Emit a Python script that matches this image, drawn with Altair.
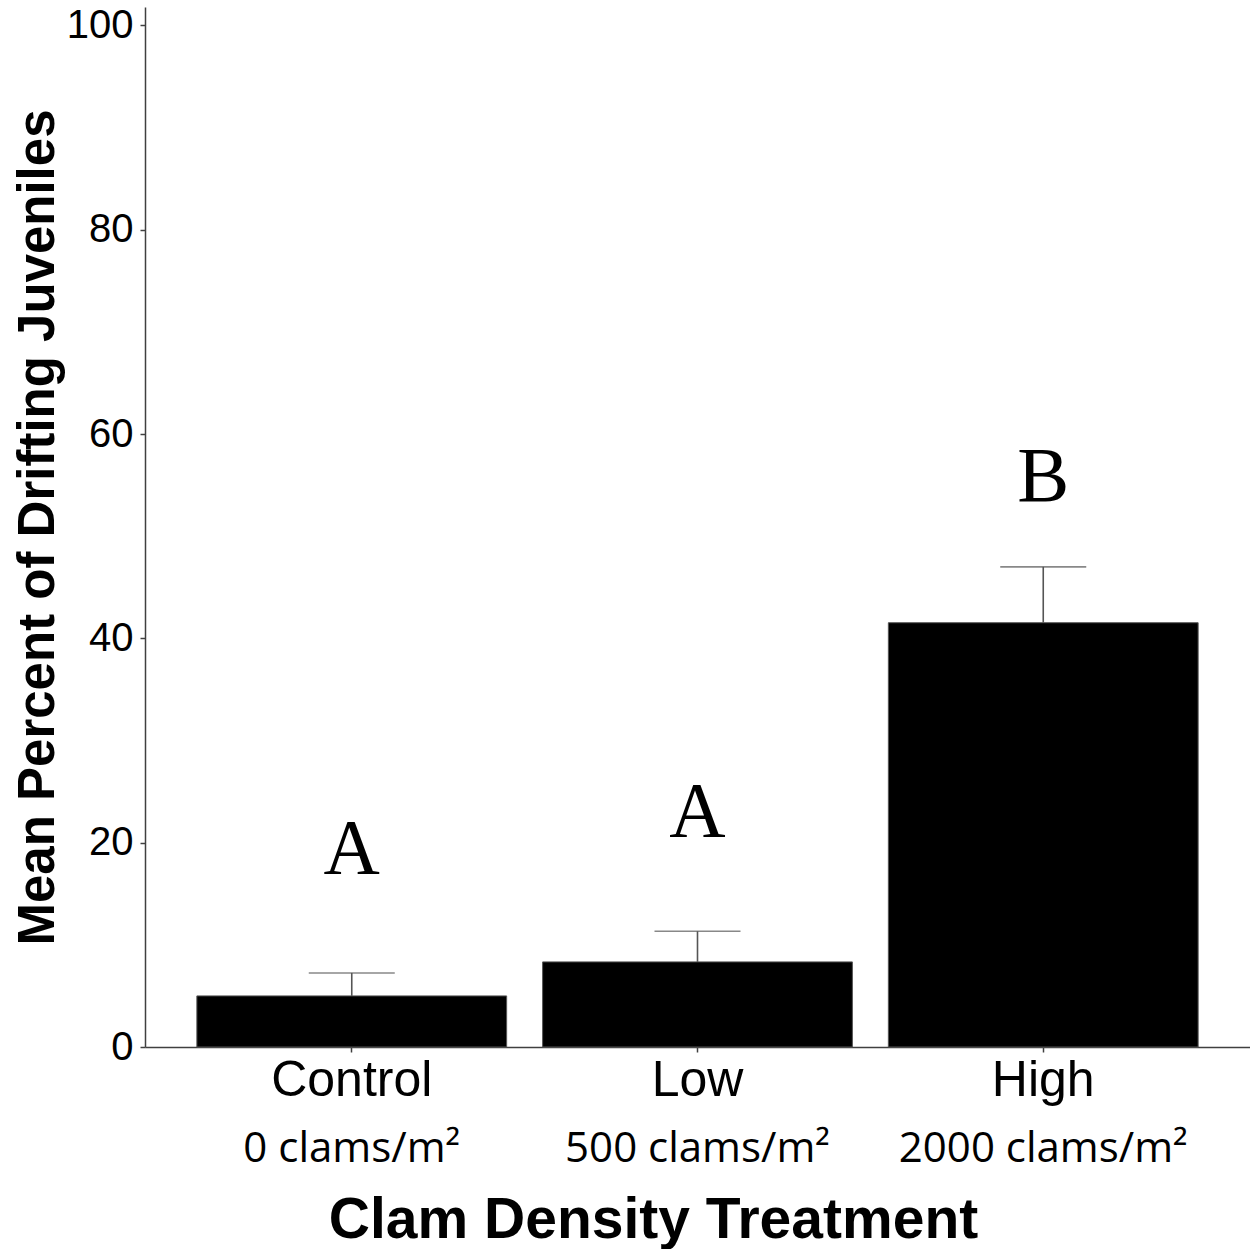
import altair as alt
import pandas as pd

categories = ["Control", "Low", "High"]
densities = ["0 clams/m²", "500 clams/m²", "2000 clams/m²"]
means = [5.0, 8.33, 41.53]
ses = [2.25, 3.0, 5.47]
letters = ["A", "A", "B"]
letter_pos = [17.0, 20.7, 53.4]
y_ticks = [0, 20, 40, 60, 80, 100]

df = pd.DataFrame({
    "cat": categories,
    "dens": densities,
    "mean": means,
    "upper": [m + s for m, s in zip(means, ses)],
    "letter": letters,
    "lpos": letter_pos,
})

yscale = alt.Scale(domain=[0, 101.8], nice=False)
xscale = alt.Scale(paddingInner=0.104, paddingOuter=0.15)

x_axis = alt.Axis(
    title="Clam Density Treatment",
    labelAngle=0,
    labelFont="Liberation Sans",
    labelFontSize=50,
    labelColor="black",
    labelPadding=3,
    tickSize=5,
    titleFont="Liberation Sans",
    titleFontSize=57,
    titleFontWeight="bold",
    titleColor="black",
    titleX=508,
    titleY=190,
    titleBaseline="alphabetic",
    titleAlign="center",
    titleAnchor="start",
)
y_axis = alt.Axis(
    title="Mean Percent of Drifting Juveniles",
    values=y_ticks,
    grid=False,
    labelFont="Liberation Sans",
    labelFontSize=40,
    labelColor="black",
    labelPadding=7,
    tickSize=5,
    titleFont="Liberation Sans",
    titleFontSize=51,
    titleFontWeight="bold",
    titleColor="black",
    titleAngle=-90,
    titleX=-92,
    titleY=520,
    titleBaseline="alphabetic",
    titleAlign="center",
    titleAnchor="start",
)

X = alt.X("cat:N", sort=categories, scale=xscale, axis=x_axis)
Xn = alt.X("cat:N", sort=categories, scale=xscale)

base = alt.Chart(df)

bars = base.mark_bar(color="black", stroke="#555555", strokeWidth=1).encode(
    x=X, y=alt.Y("mean:Q", scale=yscale, axis=y_axis)
)
err = base.mark_rule(color="#555555", strokeWidth=1.6).encode(
    x=Xn, y=alt.Y("mean:Q", scale=yscale), y2="upper:Q"
)
cap = base.mark_tick(color="#555555", size=86, thickness=1.6).encode(
    x=Xn, y=alt.Y("upper:Q", scale=yscale)
)
lett = base.mark_text(
    font="Liberation Serif", fontSize=78, baseline="alphabetic", color="black"
).encode(x=Xn, y=alt.Y("lpos:Q", scale=yscale), text="letter:N")
dens = base.mark_text(
    font="Open Sans", fontSize=42, baseline="alphabetic", color="black"
).encode(x=Xn, y=alt.value(1154.7), text="dens:N")

chart = (
    alt.layer(bars, err, cap, lett, dens)
    .properties(
        width=1105,
        height=1040,
        autosize=alt.AutoSizeParams(type="none"),
        padding={"left": 145, "top": 7, "right": 0, "bottom": 202},
        background="white",
    )
    .configure_view(stroke=None)
    .configure_axis(
        domainColor="#404040",
        domainWidth=1.5,
        tickColor="#404040",
        tickWidth=1.5,
        grid=False,
    )
)

chart.save("out.html", embed_options={"renderer": "svg", "actions": False})
